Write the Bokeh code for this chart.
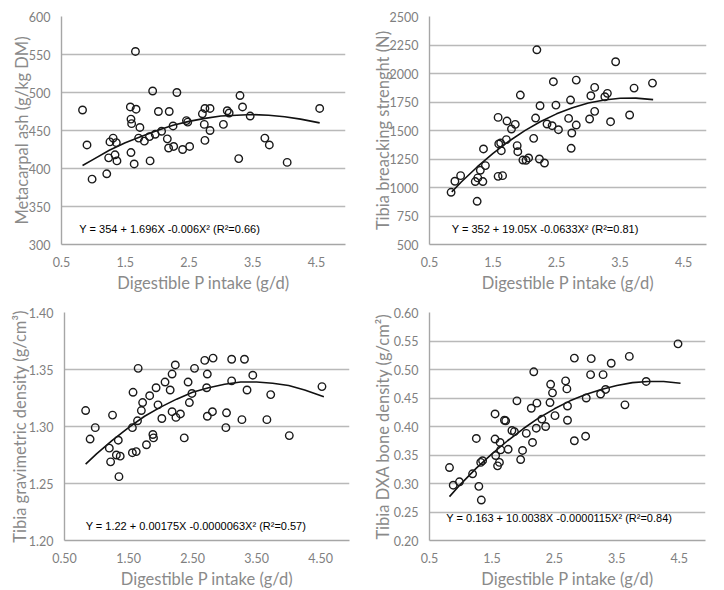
from bokeh.plotting import figure
from bokeh.models import FixedTicker, Label, NumeralTickFormatter, Range1d
from bokeh.layouts import column, row
from bokeh.embed import file_html
from bokeh.resources import INLINE

# ---------------- data ----------------
x_ticks = [0.5, 1.5, 2.5, 3.5, 4.5]

# Panel 1: Metacarpal ash
x1 = [0.83, 0.90, 0.98, 1.21, 1.24, 1.26, 1.31, 1.34, 1.36, 1.37,
      1.58, 1.59, 1.60, 1.59, 1.64, 1.66, 1.67, 1.73, 1.71, 1.80,
      1.88, 1.89, 1.93, 1.97, 2.02, 2.07, 2.19, 2.16, 2.18, 2.25,
      2.26, 2.31, 2.40, 2.46, 2.48, 2.51, 2.71, 2.75, 2.74, 2.75,
      2.83, 2.83, 3.04, 3.10, 3.13, 3.28, 3.30, 3.34, 3.46, 3.69,
      3.76, 4.04, 4.55]
y1 = [477, 431, 386, 393, 414, 435, 440, 418, 434, 410,
      481, 465, 459, 421, 406, 554, 478, 454, 440, 436,
      442, 410, 502, 445, 475, 449, 475, 439, 427, 456,
      429, 500, 425, 463, 461, 429, 472, 479, 458, 437,
      479, 450, 458, 476, 473, 413, 496, 481, 469, 440,
      431, 408, 479]
cx1 = [0.83, 1.0, 1.25, 1.5, 1.75, 2.0, 2.25, 2.5, 2.75, 3.0, 3.25, 3.5, 3.75, 4.0, 4.25, 4.55]
cy1 = [404, 412, 424, 434, 442, 450, 457, 462, 466, 469, 470, 471, 470, 468, 465, 460]
y1_ticks = [300, 350, 400, 450, 500, 550, 600]

# Panel 2: Tibia breaking strength
x2 = [0.84, 0.90, 0.99, 1.22, 1.25, 1.26, 1.30, 1.34, 1.35, 1.38,
      1.58, 1.59, 1.62, 1.63, 1.65, 1.58, 1.71, 1.72, 1.79, 1.85,
      1.88, 1.89, 1.93, 1.97, 2.02, 2.06, 2.14, 2.17, 2.19, 2.23,
      2.24, 2.31, 2.35, 2.43, 2.45, 2.49, 2.53, 2.69, 2.72, 2.74,
      2.73, 2.81, 2.81, 3.02, 3.04, 3.10, 3.10, 3.26, 3.30, 3.35,
      3.43, 3.65, 3.72, 4.01]
y2 = [958, 1055, 1104, 1052, 879, 1084, 1151, 1052, 1338, 1192,
      1615, 1382, 1390, 1323, 1104, 1098, 1420, 1583, 1513, 1554,
      1367, 1314, 1811, 1241, 1239, 1259, 1431, 1609, 2208, 1250,
      1717, 1215, 1557, 1542, 1928, 1723, 1507, 1606, 1767, 1478,
      1344, 1548, 1942, 1601, 1805, 1878, 1668, 1796, 1826, 1577,
      2103, 1636, 1872, 1916]
cx2 = [0.85, 1.0, 1.25, 1.5, 1.75, 2.0, 2.25, 2.5, 2.75, 3.0, 3.25, 3.5, 3.75, 4.02]
cy2 = [962, 1048, 1180, 1300, 1406, 1499, 1579, 1646, 1700, 1741, 1768, 1783, 1784, 1771]
y2_ticks = [500, 750, 1000, 1250, 1500, 1750, 2000, 2250, 2500]

# Panel 3: Tibia gravimetric density
x3 = [0.83, 0.90, 0.98, 1.20, 1.22, 1.25, 1.31, 1.34, 1.35, 1.37,
      1.56, 1.57, 1.56, 1.62, 1.65, 1.64, 1.70, 1.72, 1.78, 1.83,
      1.88, 1.89, 1.93, 1.96, 2.02, 2.07, 2.15, 2.18, 2.18, 2.23,
      2.24, 2.31, 2.37, 2.43, 2.45, 2.49, 2.53, 2.69, 2.73, 2.72,
      2.73, 2.82, 2.81, 3.03, 3.02, 3.11, 3.11, 3.27, 3.31, 3.35,
      3.44, 3.66, 3.72, 4.01, 4.52]
y3 = [1.314, 1.289, 1.299, 1.281, 1.269, 1.310, 1.275, 1.288, 1.256, 1.274,
      1.299, 1.330, 1.277, 1.278, 1.351, 1.305, 1.314, 1.321, 1.284, 1.327,
      1.293, 1.290, 1.334, 1.319, 1.307, 1.339, 1.332, 1.346, 1.313, 1.354,
      1.308, 1.311, 1.290, 1.339, 1.321, 1.329, 1.351, 1.358, 1.346, 1.334,
      1.309, 1.360, 1.313, 1.312, 1.299, 1.359, 1.340, 1.306, 1.359, 1.332,
      1.345, 1.306, 1.328, 1.292, 1.335]
cx3 = [0.83, 1.0, 1.25, 1.5, 1.75, 2.0, 2.25, 2.5, 2.75, 3.0, 3.25, 3.5, 3.75, 4.0, 4.25, 4.55]
cy3 = [1.267, 1.276, 1.288, 1.299, 1.309, 1.317, 1.324, 1.330, 1.334, 1.337,
       1.339, 1.339, 1.338, 1.336, 1.332, 1.326]
y3_ticks = [1.20, 1.25, 1.30, 1.35, 1.40]

# Panel 4: Tibia DXA bone density
x4 = [0.82, 0.88, 0.98, 1.19, 1.25, 1.29, 1.33, 1.32, 1.35, 1.55,
      1.55, 1.56, 1.59, 1.62, 1.63, 1.64, 1.70, 1.72, 1.76, 1.82,
      1.86, 1.90, 1.96, 1.99, 2.05, 2.13, 2.15, 2.17, 2.21, 2.22,
      2.30, 2.36, 2.43, 2.44, 2.47, 2.51, 2.68, 2.70, 2.71, 2.71,
      2.82, 2.82, 3.01, 3.00, 3.08, 3.09, 3.24, 3.32, 3.28, 3.41,
      3.63, 3.70, 3.97, 4.48]
y4 = [0.328, 0.297, 0.303, 0.317, 0.379, 0.295, 0.271, 0.337, 0.340, 0.422,
      0.378, 0.349, 0.331, 0.337, 0.372, 0.359, 0.411, 0.410, 0.360, 0.393,
      0.391, 0.445, 0.342, 0.358, 0.388, 0.432, 0.372, 0.496, 0.397, 0.441,
      0.413, 0.400, 0.442, 0.474, 0.459, 0.419, 0.480, 0.466, 0.436, 0.411,
      0.375, 0.520, 0.450, 0.383, 0.491, 0.519, 0.457, 0.465, 0.491, 0.511,
      0.438, 0.523, 0.479, 0.545]
cx4 = [0.82, 1.0, 1.25, 1.5, 1.75, 2.0, 2.25, 2.5, 2.75, 3.0, 3.25, 3.5, 3.75, 4.0, 4.25, 4.52]
cy4 = [0.277, 0.299, 0.327, 0.352, 0.375, 0.396, 0.415, 0.431, 0.445, 0.456,
       0.465, 0.472, 0.477, 0.479, 0.479, 0.476]
y4_ticks = [0.20, 0.25, 0.30, 0.35, 0.40, 0.45, 0.50, 0.55, 0.60]

x_title = "Digestible P intake (g/d)"
y_titles = ["Metacarpal ash (g/kg DM)", "Tibia breacking strenght (N)",
            "Tibia gravimetric density (g/cm³)", "Tibia DXA bone density (g/cm²)"]
equations = ["Y = 354 + 1.696X -0.006X² (R²=0.66)",
             "Y = 352 + 19.05X -0.0633X² (R²=0.81)",
             "Y = 1.22 + 0.00175X -0.0000063X² (R²=0.57)",
             "Y = 0.163 + 10.0038X -0.0000115X² (R²=0.84)"]

TICK_FONT = "Lato"
GRAY = "#7f7f7f"


def panel(xs, ys, cxs, cys, yticks, yfmt, xfmt, xr_end, ytitle, eq, eq_x, eq_y,
          b_left, f_w, b_right, b_top, f_h, b_bottom, ylab_standoff):
    p = figure(frame_width=f_w, frame_height=f_h,
               min_border_left=b_left, min_border_right=b_right,
               min_border_top=b_top, min_border_bottom=b_bottom,
               x_range=Range1d(0.5, xr_end), y_range=Range1d(yticks[0], yticks[-1]),
               output_backend="svg", toolbar_location=None, tools="")
    p.outline_line_color = None
    p.background_fill_color = "white"
    p.border_fill_color = "white"
    p.xgrid.visible = False
    p.ygrid.ticker = FixedTicker(ticks=yticks)
    p.ygrid.grid_line_color = "#b9b9b9"
    p.ygrid.grid_line_width = 1.4

    for ax in (p.xaxis[0], p.yaxis[0]):
        ax.axis_line_color = "#a6a6a6"
        ax.axis_line_width = 1.4
        ax.major_tick_line_color = None
        ax.minor_tick_line_color = None
        ax.major_tick_out = 0
        ax.major_tick_in = 0
        ax.minor_tick_out = 0
        ax.major_label_text_font = TICK_FONT
        ax.major_label_text_font_size = "12.5px"
        ax.major_label_text_color = GRAY
        ax.axis_label_text_font = TICK_FONT
        ax.axis_label_text_font_size = "16.5px"
        ax.axis_label_text_font_style = "normal"
        ax.axis_label_text_color = "#8a8a8a"

    p.xaxis.ticker = FixedTicker(ticks=x_ticks)
    p.xaxis.formatter = NumeralTickFormatter(format=xfmt)
    p.xaxis.major_label_standoff = 12
    p.xaxis.axis_label = x_title
    p.xaxis.axis_label_standoff = 3

    p.yaxis.ticker = FixedTicker(ticks=yticks)
    p.yaxis.formatter = NumeralTickFormatter(format=yfmt)
    p.yaxis.major_label_standoff = 11
    p.yaxis.axis_label = ytitle
    p.yaxis.axis_label_standoff = ylab_standoff

    p.line(cxs, cys, line_color="#111111", line_width=1.6, line_join="round")
    p.scatter(xs, ys, marker="circle", size=7.5, fill_color=None,
              line_color="#1a1a1a", line_width=1.4)

    p.add_layout(Label(x=eq_x, y=eq_y, text=eq, text_font="Liberation Sans",
                       text_font_size="11px", text_color="black",
                       text_baseline="middle", text_align="left"))
    return p


p1 = panel(x1, y1, cx1, cy1, y1_ticks, "0", "0.0", 4.955, y_titles[0], equations[0], 0.78, 320,
           61, 284, 9, 16, 228, 50, -6)
p2 = panel(x2, y2, cx2, cy2, y2_ticks, "0", "0.0", 4.86, y_titles[1], equations[1], 0.85, 632,
           75, 277, 2, 16, 228, 50, -6)
p3 = panel(x3, y3, cx3, cy3, y3_ticks, "0.00", "0.00", 4.95, y_titles[2], equations[2], 0.83, 1.213,
           64, 285, 5, 17, 228, 41, -4)
p4 = panel(x4, y4, cx4, cy4, y4_ticks, "0.00", "0.0", 4.92, y_titles[3], equations[3], 0.77, 0.240,
           75, 276, 3, 17, 228, 41, -2)

layout = column(row(p1, p2), row(p3, p4))

open("out.html", "w").write(file_html(layout, INLINE))
